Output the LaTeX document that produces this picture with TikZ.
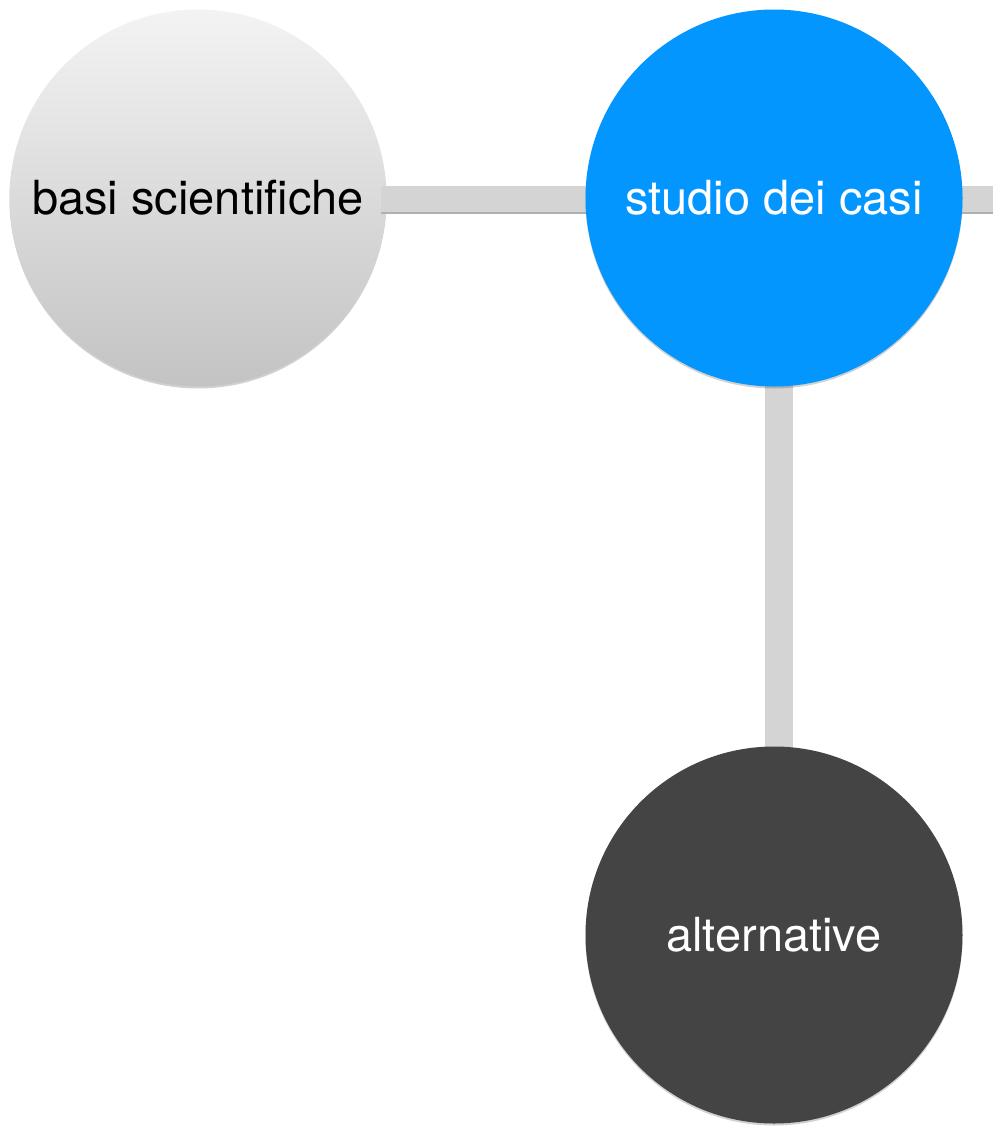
\documentclass[tikz,border=0pt]{standalone}
\usepackage{fontspec}
\setmainfont{TeX Gyre Heros}
\usetikzlibrary{shadows}
\pgfdeclarelayer{back}
\pgfdeclarelayer{mid}
\pgfsetlayers{back,mid,main}
\definecolor{barfill}{HTML}{D4D4D4}
\definecolor{barshade}{HTML}{B0B0B0}
\definecolor{skyblue}{HTML}{0396FF}
\definecolor{charcoal}{HTML}{444444}
\definecolor{silvertop}{HTML}{F3F3F3}
\definecolor{silverbottom}{HTML}{C3C3C3}
\begin{document}
\begin{tikzpicture}[x=1pt,y=-1pt,
  bubble/.style={circle, minimum size=377pt, inner sep=0pt,
    font=\fontsize{47}{52}\selectfont,
    drop shadow={shadow xshift=0pt, shadow yshift=-2pt, opacity=0.18, fill=black}},
  bar/.style={line width=26pt, draw=barfill, line cap=butt},
  barshadow/.style={line width=26pt, draw=barshade, line cap=butt}]
  \useasboundingbox (0,0) rectangle (993,1127);

  % the grey topic sits underneath the connectors
  \begin{pgfonlayer}{back}
    \fill[white] (0,0) rectangle (993,1127);
    \node[bubble, top color=silvertop, bottom color=silverbottom, text=black]
      (sci) at (198,198) {basi scientifiche};
  \end{pgfonlayer}

  \node[bubble, fill=skyblue, text=white] (casi) at (774,198) {studio dei casi};
  \node[bubble, fill=charcoal, text=white] (alt) at (774,935) {alternative};
  \coordinate (rim) at (1000,199);

  % connectors between the topics, the horizontal ones with a darker lower edge
  \begin{pgfonlayer}{mid}
    \draw[barshadow] ([xshift=-6pt,yshift=-3pt]sci.east) -- ([yshift=-3pt]casi.center);
    \draw[bar] ([xshift=-6pt,yshift=-1pt]sci.east) -- ([yshift=-1pt]casi.center);
    \draw[barshadow] ([yshift=-3pt]casi.center) -- ([yshift=-2pt]rim);
    \draw[bar] ([yshift=-1pt]casi.center) -- (rim);
    \draw[bar, line width=28pt] ([xshift=5pt]casi.center) -- ([xshift=5pt]alt.center);
  \end{pgfonlayer}
\end{tikzpicture}
\end{document}
